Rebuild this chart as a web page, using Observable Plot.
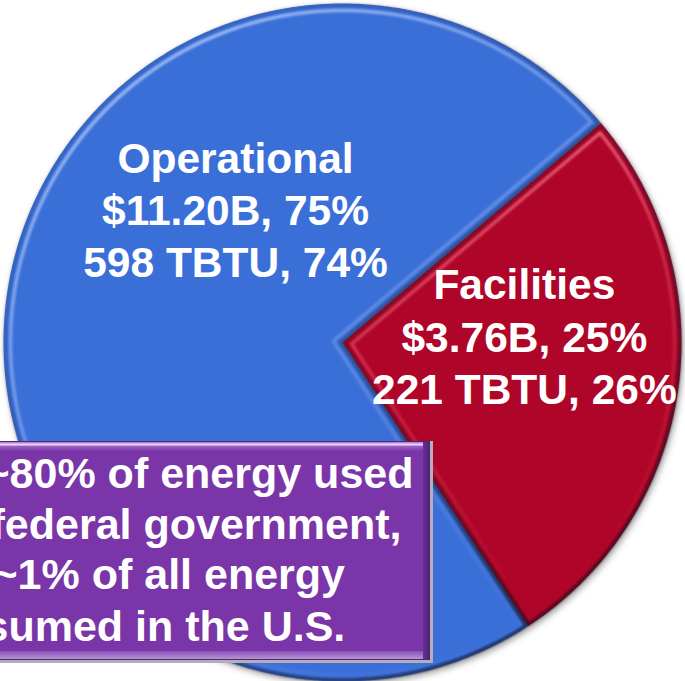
<!DOCTYPE html>
<html><head><meta charset="utf-8">
<script src="https://cdn.jsdelivr.net/npm/d3@7"></script>
<script src="https://cdn.jsdelivr.net/npm/@observablehq/plot@0.6"></script>
<style>
body{margin:0;background:#fff;}
#chart{width:685px;height:681px;overflow:hidden;position:relative;}
</style>
</head><body><div id="chart"></div>
<script>
// ---- data ----
const categories = ["Operational", "Facilities"];
const costBillions = [11.20, 3.76];
const costPercent = [75, 25];
const energyTBTU = [598, 221];
const energyPercent = [74, 26];
const sliceColors = ["#3B6FD8", "#AF0528"];
const noteLines = ["~80% of energy used", "federal government,", "~1% of all energy", "sumed in the U.S."];

// ---- layout ----
const W = 685, H = 681;
const CX = 342, CY = 342, R = 339;
const START = 146.8 * Math.PI / 180;
const labelPolar = {Operational: [321.4, 171.5], Facilities: [87.6, 182]};
const noteX = [-16, -10, -8, -16];
const noteBaseline = [487, 538, 588, 640];
const FONT = "'Liberation Sans', Arial, sans-serif";
const toX = px => px - CX;
const toY = py => CY - py;

const rows = categories.map((c, i) => ({
  cat: c, cost: costBillions[i], costPct: costPercent[i],
  tbtu: energyTBTU[i], tbtuPct: energyPercent[i]
}));
const arcs = d3.pie().sort(null).value(d => d.tbtu)
  .startAngle(START).endAngle(START + 2 * Math.PI)(rows);

function wedge(a0, a1, d, cat) {
  const theta = a1 - a0, mid = (a0 + a1) / 2;
  const ad = d === 0 ? 0 : d / Math.sin(theta / 2);
  const pts = [{x: ad * Math.sin(mid), y: ad * Math.cos(mid), cat}];
  const r = R - d;
  const delta = d === 0 ? 0 : Math.asin(d / r);
  const n = Math.ceil(theta * 180 / Math.PI) * 2;
  for (let i = 0; i <= n; i++) {
    const a = a0 + delta + (theta - 2 * delta) * i / n;
    pts.push({x: r * Math.sin(a), y: r * Math.cos(a), cat});
  }
  return pts;
}
function circlePts(r) {
  const p = [];
  for (let i = 0; i < 720; i++) { const a = i * Math.PI / 360; p.push({x: r * Math.sin(a), y: r * Math.cos(a)}); }
  return p;
}

const slicePts = arcs.flatMap(a => wedge(a.startAngle, a.endAngle, 0, a.data.cat));

const marks = [];
// drop shadow
marks.push(Plot.line(circlePts(R), {x: "x", y: "y", fill: "#555", fillOpacity: 0.55, stroke: null, curve: "linear-closed", dx: 2, dy: 3, ariaDescription: "shadow"}));
// slices
marks.push(Plot.line(slicePts, {x: "x", y: "y", z: "cat", fill: "cat", stroke: null, curve: "linear-closed"}));
// bevel highlights & edge shading per slice
arcs.forEach((a, i) => {
  marks.push(Plot.line(wedge(a.startAngle, a.endAngle, 7, a.data.cat), {x: "x", y: "y", stroke: `url(#hl${i})`, strokeWidth: 3.5, fill: null, curve: "linear-closed", ariaDescription: "hl"}));
  marks.push(Plot.line(wedge(a.startAngle, a.endAngle, 1.5, a.data.cat), {x: "x", y: "y", stroke: "url(#edge)", strokeWidth: 3, fill: null, curve: "linear-closed", ariaDescription: "edge"}));
});
// slice labels
marks.push(Plot.text(rows, {
  x: d => labelPolar[d.cat][1] * Math.sin(labelPolar[d.cat][0] * Math.PI / 180),
  y: d => labelPolar[d.cat][1] * Math.cos(labelPolar[d.cat][0] * Math.PI / 180),
  text: d => `${d.cat}\n$${d.cost.toFixed(2)}B, ${d.costPct}%\n${d.tbtu} TBTU, ${d.tbtuPct}%`,
  fill: "white", fontSize: 42.5, fontWeight: "bold", fontFamily: FONT,
  lineHeight: 1.23, textAnchor: "middle", lineAnchor: "middle"
}));
// note box (annotation)
const rect = (x1, x2, y1, y2, fill, extra = {}) => Plot.rect([0], {x1: () => toX(x1), x2: () => toX(x2), y1: () => toY(y1), y2: () => toY(y2), fill, ...extra});
marks.push(rect(-20, 433, 441, 663, "#B4AEBA"));
marks.push(rect(-20, 430, 441, 660, "#4E2870"));
marks.push(rect(-20, 429, 442, 659, "#7A35A8"));
marks.push(rect(-20, 424, 442, 451, "url(#boxTop)"));
marks.push(rect(-20, 424, 443.5, 445.5, "#EBD8F7"));
marks.push(rect(423, 429, 442, 659, "url(#boxRight)"));
marks.push(rect(-20, 423, 651, 659, "url(#boxBottom)"));
marks.push(Plot.text(noteLines, {
  x: (d, i) => toX(noteX[i]), y: (d, i) => toY(noteBaseline[i]), text: d => d,
  fill: "white", fontSize: 43, fontWeight: "bold", fontFamily: FONT,
  textAnchor: "start", lineAnchor: "bottom"
}));

const svg = Plot.plot({
  width: W, height: H, margin: 0,
  x: {domain: [-CX, W - CX], range: [0, W], axis: null},
  y: {domain: [CY - H, CY], range: [H, 0], axis: null},
  color: {domain: categories, range: sliceColors},
  style: {background: "white", overflow: "hidden"},
  marks
});

const s = d3.select(svg);
const defs = s.insert("defs", ":first-child");
defs.html(`
<filter id="blur3" x="-10%" y="-10%" width="120%" height="120%"><feGaussianBlur stdDeviation="3"/></filter>
<filter id="blur1" x="-10%" y="-10%" width="120%" height="120%"><feGaussianBlur stdDeviation="1.3"/></filter>
<linearGradient id="hl0" gradientUnits="userSpaceOnUse" x1="120" y1="20" x2="520" y2="640">
  <stop offset="0" stop-color="#A9C4F5" stop-opacity="0.95"/>
  <stop offset="0.5" stop-color="#8AAEF0" stop-opacity="0.45"/>
  <stop offset="1" stop-color="#8AAEF0" stop-opacity="0"/>
</linearGradient>
<linearGradient id="hl1" gradientUnits="userSpaceOnUse" x1="420" y1="130" x2="600" y2="560">
  <stop offset="0" stop-color="#F27A8E" stop-opacity="1"/>
  <stop offset="0.45" stop-color="#E0445E" stop-opacity="0.55"/>
  <stop offset="1" stop-color="#E0445E" stop-opacity="0"/>
</linearGradient>
<linearGradient id="edge" gradientUnits="userSpaceOnUse" x1="120" y1="60" x2="600" y2="640">
  <stop offset="0" stop-color="#1a2040" stop-opacity="0.15"/>
  <stop offset="0.6" stop-color="#1a1a30" stop-opacity="0.45"/>
  <stop offset="1" stop-color="#100818" stop-opacity="0.8"/>
</linearGradient>
<linearGradient id="boxTop" x1="0" y1="0" x2="0" y2="1">
  <stop offset="0" stop-color="#B98AE0"/><stop offset="1" stop-color="#7A35A8"/>
</linearGradient>
<linearGradient id="boxRight" x1="0" y1="0" x2="1" y2="0">
  <stop offset="0" stop-color="#6A2E98"/><stop offset="1" stop-color="#4F2378"/>
</linearGradient>
<linearGradient id="boxBottom" x1="0" y1="0" x2="0" y2="1">
  <stop offset="0" stop-color="#8A52B8"/><stop offset="1" stop-color="#B792D6"/>
</linearGradient>`);
s.selectAll('g[aria-description="shadow"]').attr("filter", "url(#blur3)");
s.selectAll('g[aria-description="hl"]').attr("filter", "url(#blur1)");
s.selectAll('g[aria-description="edge"]').attr("filter", "url(#blur1)");
document.getElementById("chart").appendChild(svg);
</script>
</body></html>
